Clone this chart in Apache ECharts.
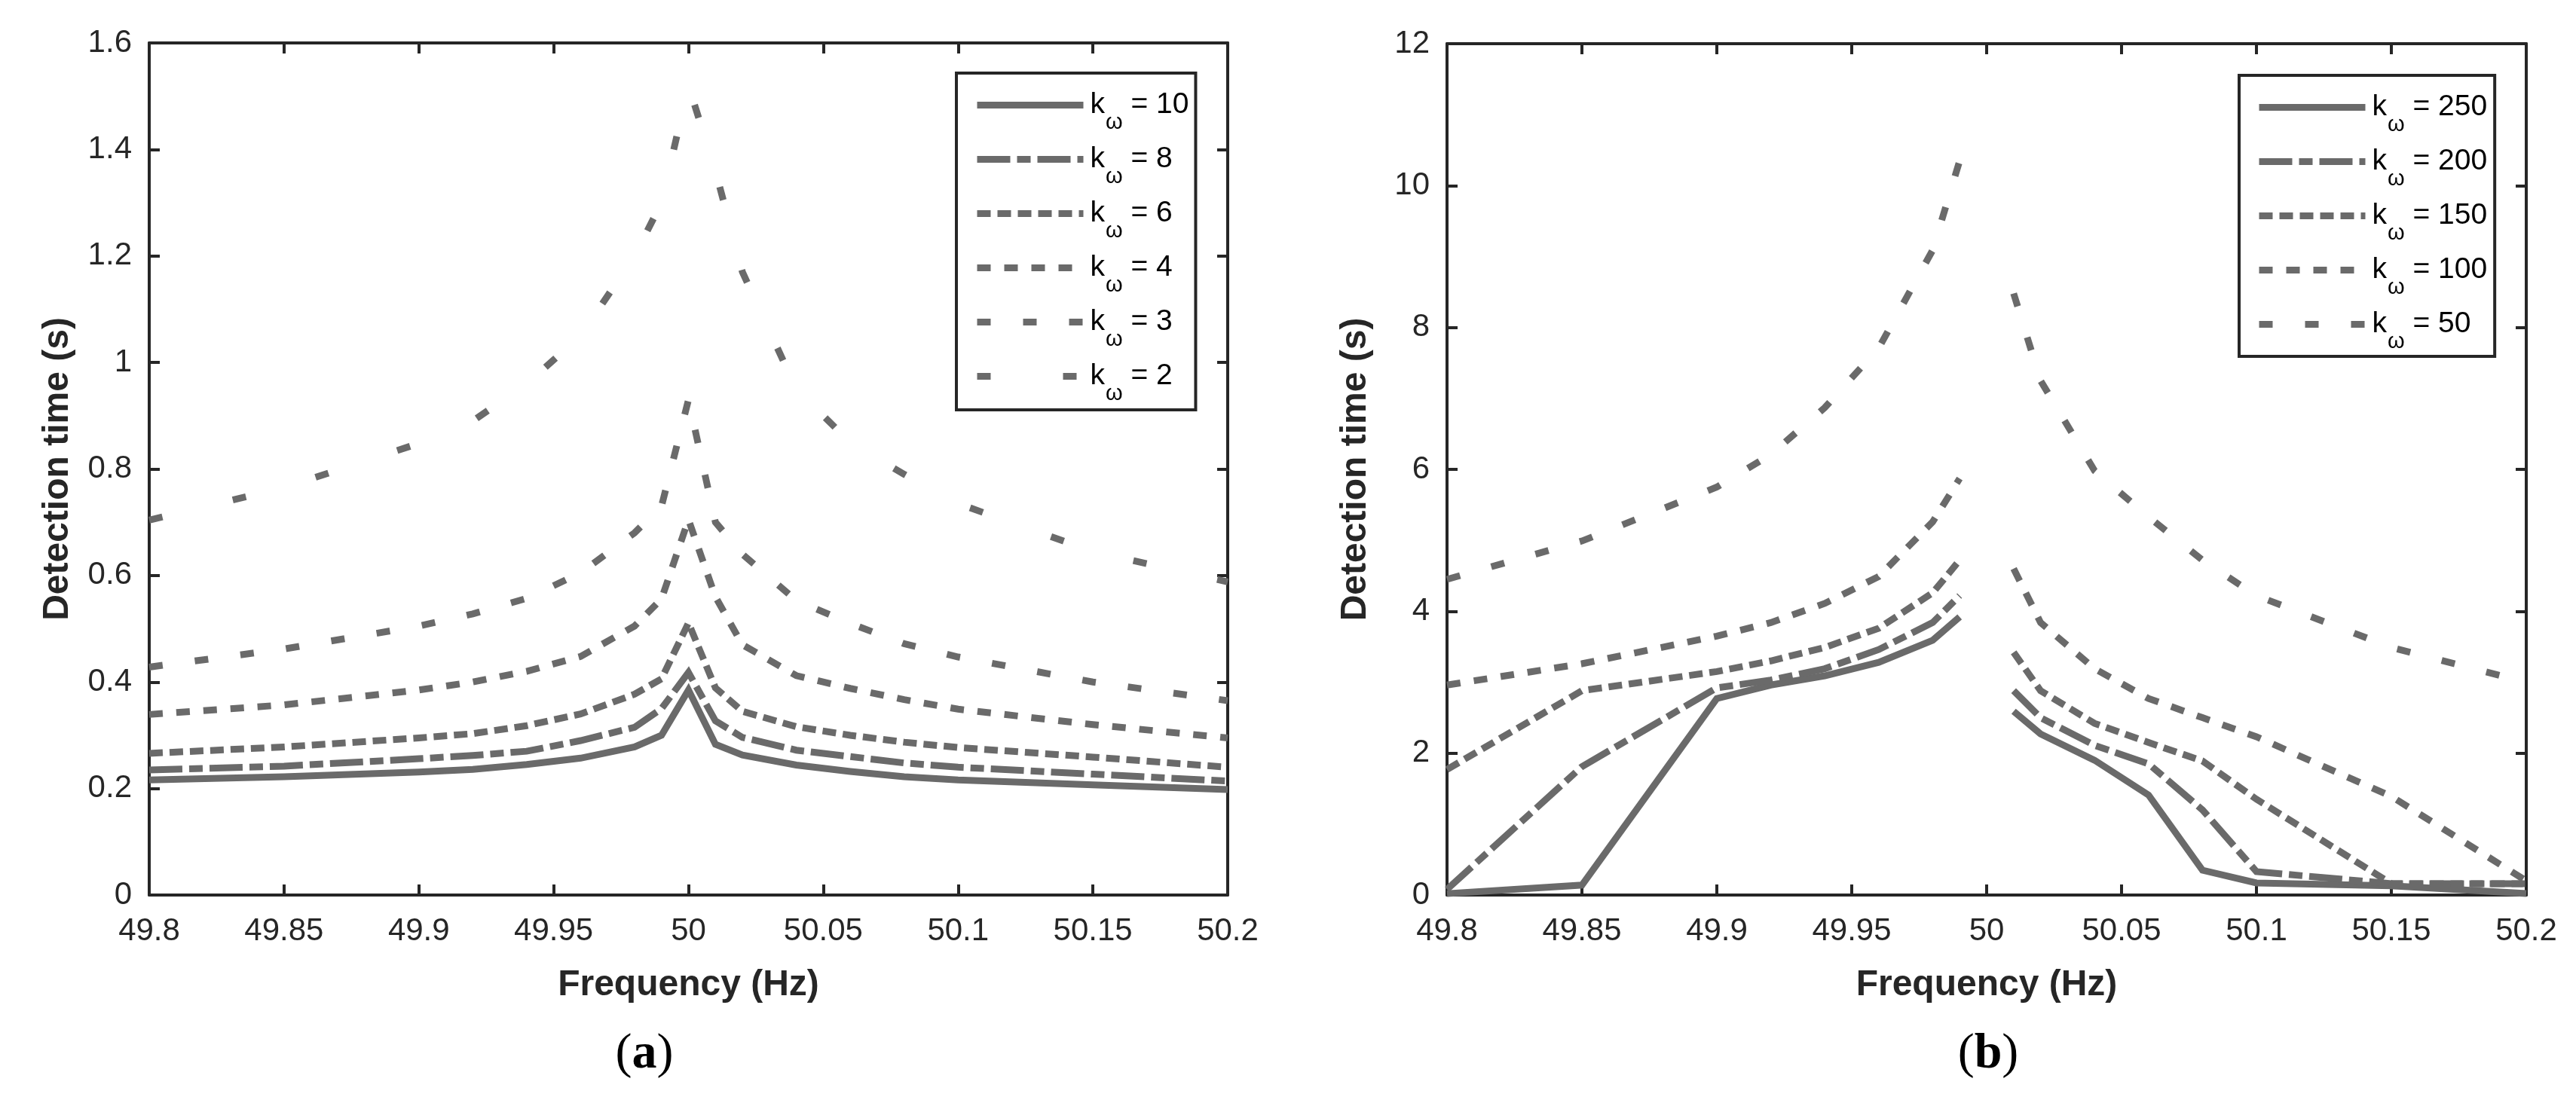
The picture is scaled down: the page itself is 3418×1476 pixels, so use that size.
<!DOCTYPE html>
<html><head><meta charset="utf-8">
<script src="https://cdn.jsdelivr.net/npm/echarts@6/dist/echarts.min.js"></script>
<style>html,body{margin:0;padding:0;background:#fff;}#c{width:3418px;height:1476px;}</style>
</head><body><div id="c"></div>
<script>
// ---------- data ----------
const freq = [49.8, 49.85, 49.9, 49.92, 49.94, 49.96, 49.98, 49.99, 50, 50.01, 50.02, 50.04, 50.06, 50.08, 50.1, 50.15, 50.2];
const xTicks = [49.8, 49.85, 49.9, 49.95, 50, 50.05, 50.1, 50.15, 50.2];
const yTicksA = [0, 0.2, 0.4, 0.6, 0.8, 1, 1.2, 1.4, 1.6];
const yTicksB = [0, 2, 4, 6, 8, 10, 12];

// (a) detection time, s
const kA = [10, 8, 6, 4, 3, 2];
const a_k10 = [0.216, 0.222, 0.231, 0.236, 0.245, 0.257, 0.278, 0.300, 0.385, 0.283, 0.263, 0.244, 0.232, 0.222, 0.216, 0.207, 0.198];
const a_k8  = [0.235, 0.242, 0.256, 0.262, 0.270, 0.290, 0.315, 0.350, 0.418, 0.327, 0.296, 0.272, 0.260, 0.248, 0.240, 0.227, 0.214];
const a_k6  = [0.266, 0.278, 0.295, 0.303, 0.318, 0.340, 0.377, 0.406, 0.511, 0.389, 0.345, 0.316, 0.300, 0.287, 0.277, 0.259, 0.240];
const a_k4  = [0.339, 0.357, 0.385, 0.400, 0.420, 0.448, 0.505, 0.556, 0.705, 0.560, 0.470, 0.412, 0.388, 0.367, 0.349, 0.320, 0.295];
const a_k3  = [0.428, 0.462, 0.505, 0.528, 0.557, 0.605, 0.680, 0.730, 0.930, 0.700, 0.640, 0.553, 0.510, 0.472, 0.447, 0.400, 0.365];
const a_k2  = [0.704, 0.765, 0.848, 0.890, 0.960, 1.050, 1.200, 1.300, 1.520, 1.360, 1.170, 0.950, 0.850, 0.790, 0.735, 0.645, 0.588];
const seriesA = [a_k10, a_k8, a_k6, a_k4, a_k3, a_k2];

// (b) detection time, s  (no value at 50 Hz)
const kB = [250, 200, 150, 100, 50];
const b_k250 = [0.02, 0.14, 2.77, 2.96, 3.09, 3.28, 3.59, 3.92, null, 2.59, 2.27, 1.90, 1.41, 0.35, 0.17, 0.13, 0.02];
const b_k200 = [0.08, 1.81, 2.92, 3.03, 3.19, 3.46, 3.84, 4.22, null, 2.88, 2.50, 2.11, 1.85, 1.20, 0.33, 0.16, 0.16];
const b_k150 = [1.77, 2.88, 3.15, 3.30, 3.49, 3.76, 4.26, 4.72, null, 3.42, 2.88, 2.42, 2.15, 1.89, 1.35, 0.16, 0.16];
const b_k100 = [2.96, 3.26, 3.65, 3.84, 4.11, 4.49, 5.26, 5.87, null, 4.60, 3.84, 3.19, 2.77, 2.50, 2.23, 1.39, 0.20];
const b_k50  = [4.45, 4.99, 5.75, 6.21, 6.87, 7.71, 9.09, 10.35, null, 8.48, 7.25, 5.98, 5.33, 4.72, 4.22, 3.49, 3.00];
const seriesB = [b_k250, b_k200, b_k150, b_k100, b_k50];

// ---------- styles ----------
const dashA = ['solid', [44, 9, 18, 9], [18, 9], [18, 18], [18, 43], [18, 96]];
const dashB = ['solid', [44, 9, 18, 9], [18, 9], [18, 18], [18, 43]];
const LINE = '#6a6a6a', AX = '#262626', FONT = '"Liberation Sans", Arial, sans-serif';

const namesA = kA.map(k => 'kω = ' + k);
const namesB = kB.map(k => 'kω = ' + k);

function mkSeries(name, vals, dash, ax) {
  return {
    type: 'line', name: name, xAxisIndex: ax, yAxisIndex: ax,
    data: freq.map((f, i) => [f, vals[i]]),
    symbol: 'none', showSymbol: false, connectNulls: false, silent: true,
    lineStyle: { color: LINE, width: 9, type: dash, cap: 'butt', join: 'miter' },
    itemStyle: { color: LINE }, emphasis: { disabled: true }, z: 3
  };
}

function xAx(grid, pos) {
  return {
    type: 'value', gridIndex: grid, position: pos,
    min: xTicks[0], max: xTicks[xTicks.length - 1], interval: xTicks[1] - xTicks[0],
    axisLine: { show: true, onZero: false, lineStyle: { color: AX, width: 4 } },
    axisTick: { show: true, inside: true, length: 14, lineStyle: { color: AX, width: 4 } },
    axisLabel: { show: pos === 'bottom', margin: 27, color: AX, fontSize: 42, fontFamily: FONT,
      formatter: v => String(Math.round(v * 100) / 100) },
    splitLine: { show: false },
    name: pos === 'bottom' ? 'Frequency (Hz)' : '', nameLocation: 'middle', nameGap: 96,
    nameTextStyle: { color: AX, fontSize: 48, fontWeight: 'bold', fontFamily: FONT }
  };
}
function yAx(grid, pos, ticks) {
  return {
    type: 'value', gridIndex: grid, position: pos,
    min: ticks[0], max: ticks[ticks.length - 1], interval: ticks[1] - ticks[0],
    axisLine: { show: true, onZero: false, lineStyle: { color: AX, width: 4 } },
    axisTick: { show: true, inside: true, length: 14, lineStyle: { color: AX, width: 4 } },
    axisLabel: { show: pos === 'left', margin: 23, color: AX, fontSize: 42, fontFamily: FONT,
      formatter: v => String(Math.round(v * 100) / 100) },
    splitLine: { show: false },
    name: pos === 'left' ? 'Detection time (s)' : '', nameLocation: 'middle', nameGap: 97, nameRotate: 90,
    nameTextStyle: { color: AX, fontSize: 48, fontWeight: 'bold', fontFamily: FONT }
  };
}

const rich = {
  k: { fontSize: 39, fontFamily: FONT, color: '#000', lineHeight: 40, padding: [0, 0, 0, 4] },
  w: { fontSize: 29, fontFamily: FONT, color: '#000', lineHeight: 40, padding: [46, 0, 0, 1] },
  r: { fontSize: 39, fontFamily: FONT, color: '#000', lineHeight: 40 }
};
function legendFmt(name) { return '{k|k}{w|ω}{r|' + name.slice(2) + '}'; }
function mkLegend(names, left, top, pad, w) {
  return {
    orient: 'vertical', left: left, top: top, padding: pad,
    itemWidth: 141, itemHeight: 40, itemGap: -3.0,
    backgroundColor: '#fff', borderColor: AX, borderWidth: 4, borderRadius: 0,
    data: names, formatter: legendFmt, selectedMode: false,
    itemStyle: { opacity: 0, borderWidth: 0 },
    lineStyle: { width: 9, color: LINE, cap: 'butt', inactiveWidth: 9 },
    textStyle: { width: w, rich: rich }
  };
}

const option = {
  animation: false,
  backgroundColor: '#fff',
  grid: [
    { left: 198, top: 57, width: 1431, height: 1131, containLabel: false },
    { left: 1920, top: 58, width: 1432, height: 1130, containLabel: false }
  ],
  xAxis: [xAx(0, 'bottom'), xAx(0, 'top'), xAx(1, 'bottom'), xAx(1, 'top')],
  yAxis: [yAx(0, 'left', yTicksA), yAx(0, 'right', yTicksA), yAx(1, 'left', yTicksB), yAx(1, 'right', yTicksB)],
  legend: [
    mkLegend(namesA, 1269, 97, [5, 9, 7, 23], 126),
    mkLegend(namesB, 2971, 100, [5, 10, 5, 22], 149)
  ],
  series: [].concat(
    seriesA.map((v, i) => mkSeries(namesA[i], v, dashA[i], 0)),
    seriesB.map((v, i) => mkSeries(namesB[i], v, dashB[i], 2))
  ),
  graphic: [
    { type: 'text', x: 855, y: 1400, style: { text: '{p|(}{b|a}{p|)}', align: 'center', verticalAlign: 'middle',
      rich: { p: { fontSize: 66, fontFamily: '"Liberation Serif", serif', fill: '#000' },
              b: { fontSize: 66, fontWeight: 'bold', fontFamily: '"Liberation Serif", serif', fill: '#000' } } } },
    { type: 'text', x: 2638, y: 1400, style: { text: '{p|(}{b|b}{p|)}', align: 'center', verticalAlign: 'middle',
      rich: { p: { fontSize: 66, fontFamily: '"Liberation Serif", serif', fill: '#000' },
              b: { fontSize: 66, fontWeight: 'bold', fontFamily: '"Liberation Serif", serif', fill: '#000' } } } }
  ]
};
const chart = echarts.init(document.getElementById('c'), null, { renderer: 'canvas', width: 3418, height: 1476 });
chart.setOption(option);
</script></body></html>
